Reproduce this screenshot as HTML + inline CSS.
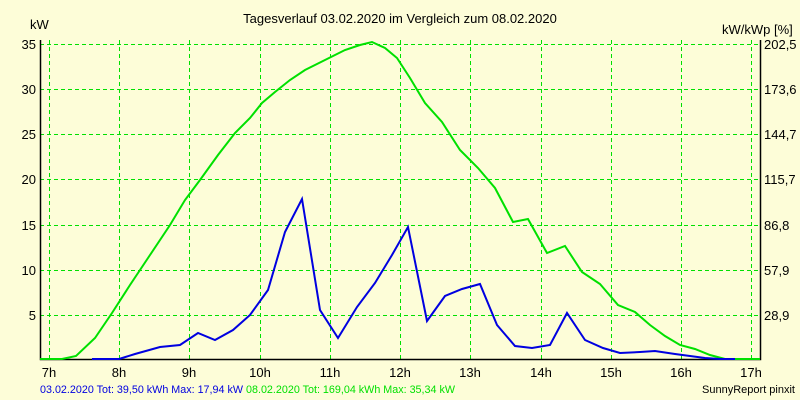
<!DOCTYPE html>
<html><head><style>body{margin:0;background:#ffffd9}svg{display:block}text{font-family:"Liberation Sans",sans-serif;font-size:13px}</style></head><body>
<svg width="800" height="400" viewBox="0 0 800 400">
<rect width="800" height="400" fill="#fdfdd8"/>
<g stroke="#00e000" stroke-dasharray="4,3" stroke-width="1">
<line x1="40" x2="760" y1="44.5" y2="44.5"/><line x1="40" x2="760" y1="89.5" y2="89.5"/><line x1="40" x2="760" y1="134.5" y2="134.5"/><line x1="40" x2="760" y1="179.5" y2="179.5"/><line x1="40" x2="760" y1="225.5" y2="225.5"/><line x1="40" x2="760" y1="270.5" y2="270.5"/><line x1="40" x2="760" y1="315.5" y2="315.5"/>
<line x1="49.5" x2="49.5" y1="40" y2="359"/><line x1="119.5" x2="119.5" y1="40" y2="359"/><line x1="189.5" x2="189.5" y1="40" y2="359"/><line x1="260.5" x2="260.5" y1="40" y2="359"/><line x1="330.5" x2="330.5" y1="40" y2="359"/><line x1="400.5" x2="400.5" y1="40" y2="359"/><line x1="470.5" x2="470.5" y1="40" y2="359"/><line x1="541.5" x2="541.5" y1="40" y2="359"/><line x1="611.5" x2="611.5" y1="40" y2="359"/><line x1="681.5" x2="681.5" y1="40" y2="359"/><line x1="751.5" x2="751.5" y1="40" y2="359"/>
</g>
<path d="M40.5 40v319.5H760.5V40" fill="none" stroke="#000" stroke-width="1.5"/>
<polyline fill="none" stroke="#00e000" stroke-width="2" points="40,359 62,359 76,356 95,338 112,313 130,285 150,255 170,225 185,200 200,180 218,155 235,133 250,118 262,103 275,92 290,80 305,70 325,60 345,50 360,45 372,42 385,48 397,58 410,78 425,103 442,122 460,150 478,168 495,188 513,222 528,219 547,253 565,246 582,272 600,284 618,305 635,312 650,325 665,336 680,345 695,349 710,355 725,359 760,359"/>
<polyline fill="none" stroke="#0000e0" stroke-width="2" points="92,359 119,359 135,354 160,347 180,345 198,333 215,340 233,330 250,315 268,290 285,232 302,199 320,310 338,338 357,307 375,283 392,255 408,227 427,321 445,296 462,289 480,284 497,325 515,346 532,348 550,345 567,313 585,340 603,348 620,353 640,352 655,351 675,354 705,358 720,359 735,359"/>
<g text-anchor="end">
<text x="36" y="49">35</text><text x="36" y="94">30</text><text x="36" y="139">25</text><text x="36" y="184">20</text><text x="36" y="230">15</text><text x="36" y="275">10</text><text x="36" y="320">5</text>
</g>
<text x="30" y="29">kW</text>
<g><text x="764" y="49">202,5</text><text x="764" y="94">173,6</text><text x="764" y="139">144,7</text><text x="764" y="184">115,7</text><text x="764" y="230">86,8</text><text x="764" y="275">57,9</text><text x="764" y="320">28,9</text></g>
<text x="722" y="34">kW/kWp [%]</text>
<text x="400" y="23" text-anchor="middle">Tagesverlauf 03.02.2020 im Vergleich zum 08.02.2020</text>
<g text-anchor="middle">
<text x="49" y="377">7h</text><text x="119" y="377">8h</text><text x="189" y="377">9h</text><text x="260" y="377">10h</text><text x="330" y="377">11h</text><text x="400" y="377">12h</text><text x="470" y="377">13h</text><text x="541" y="377">14h</text><text x="611" y="377">15h</text><text x="681" y="377">16h</text><text x="751" y="377">17h</text>
</g>
<text x="40" y="393" fill="#0000e0" style="font-size:11px" textLength="203" lengthAdjust="spacingAndGlyphs">03.02.2020 Tot: 39,50 kWh Max: 17,94 kW</text>
<text x="246" y="393" fill="#00e000" style="font-size:11px" textLength="209" lengthAdjust="spacingAndGlyphs">08.02.2020 Tot: 169,04 kWh Max: 35,34 kW</text>
<text x="795" y="393" text-anchor="end" style="font-size:11px">SunnyReport pinxit</text>
</svg>
</body></html>
